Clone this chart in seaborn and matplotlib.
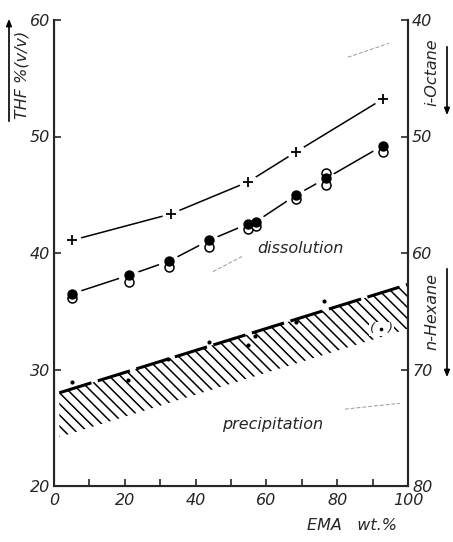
import numpy as np
import pandas as pd
import matplotlib
matplotlib.use("Agg")
import matplotlib.pyplot as plt
import seaborn as sns

# ---- data ----
plus_x = [5.2, 33.0, 54.8, 68.5, 92.8]
plus_y = [41.1, 43.35, 46.1, 48.7, 53.2]

filled_x = [5.1, 21.2, 32.5, 43.9, 54.8, 57.1, 68.5, 76.8, 92.8]
filled_y = [36.5, 38.1, 39.3, 41.1, 42.5, 42.7, 45.0, 46.4, 49.2]

open_x = [5.1, 21.2, 32.5, 43.9, 54.8, 57.1, 68.5, 76.8, 76.8, 92.8]
open_y = [36.1, 37.5, 38.8, 40.5, 42.1, 42.3, 44.6, 45.8, 46.9, 48.7]

dot_x = [5.1, 21.0, 32.3, 43.9, 54.8, 56.8, 68.4, 76.3]
dot_y = [28.95, 29.1, 30.9, 32.4, 32.1, 32.9, 34.1, 35.9]
paren_dot_x = [92.5]
paren_dot_y = [33.5]

band_x = [1.5, 100.0]
band_top = [28.0, 37.3]
band_depth = 3.8

left_ticks = [20, 30, 40, 50, 60]
right_ticks = [40, 50, 60, 70, 80]
x_major = [0, 20, 40, 60, 80, 100]
x_minor = [10, 30, 50, 70, 90]

# faint scan marks in the reference
marks = [
    ([83.0, 94.6], [56.8, 58.0]),
    ([44.9, 53.1], [38.4, 39.7]),
    ([82.2, 97.7], [26.6, 27.1]),
]

sns.set_style("ticks")
plt.rcParams["font.family"] = ["DejaVu Sans"]
plt.rcParams["font.style"] = "italic"
plt.rcParams["hatch.linewidth"] = 1.1

W, H = 453, 542
fig = plt.figure(figsize=(W / 100, H / 100), dpi=100)
ax = fig.add_axes([54 / W, 1 - 486 / H, (408 - 54) / W, (486 - 20) / H])

ax.set_xlim(0, 100)
ax.set_ylim(20, 60)

# hatched precipitation band
bx = np.array(band_x)
bt = np.array(band_top)
ax.fill_between(bx, bt - band_depth, bt, facecolor="none", edgecolor="black",
                hatch="\\\\\\", linewidth=0, zorder=1)
ax.plot(bx, bt, color="black", lw=2.2, dashes=(11, 2.2), zorder=2)

# lines
df_plus = pd.DataFrame({"x": plus_x, "y": plus_y})
df_fill = pd.DataFrame({"x": filled_x, "y": filled_y})
sns.lineplot(data=df_plus, x="x", y="y", ax=ax, color="black", lw=1.1,
             sort=True, estimator=None, zorder=2)
sns.lineplot(data=df_fill, x="x", y="y", ax=ax, color="black", lw=1.1,
             sort=True, estimator=None, zorder=2)

# white halos to create gaps
ax.scatter(plus_x, plus_y, s=170, color="white", zorder=3, linewidths=0)
ax.scatter(filled_x, [v - 0.2 for v in filled_y], s=230, color="white",
           zorder=3, linewidths=0)

# markers
sns.scatterplot(x=plus_x, y=plus_y, ax=ax, marker="+", s=60, color="black",
                linewidth=1.3, zorder=5)
sns.scatterplot(x=open_x, y=open_y, ax=ax, marker="o", s=42,
                facecolor="white", edgecolor="black", linewidth=1.1, zorder=4)
sns.scatterplot(x=filled_x, y=filled_y, ax=ax, marker="o", s=42,
                color="black", edgecolor="black", linewidth=1, zorder=6)
sns.scatterplot(x=dot_x, y=dot_y, ax=ax, marker="o", s=9, color="black",
                linewidth=0, zorder=6)
ax.text(paren_dot_x[0], paren_dot_y[0], "(   )", ha="center", va="center",
        fontsize=9.5, zorder=6,
        bbox=dict(facecolor="white", edgecolor="none", pad=0.5))
sns.scatterplot(x=paren_dot_x, y=paren_dot_y, ax=ax, marker="o", s=7,
                color="black", linewidth=0, zorder=7)

for mx, my in marks:
    ax.plot(mx, my, color="0.6", lw=0.7, ls=(0, (4, 2)), zorder=1)

# region labels
ax.text(57.5, 40.4, "dissolution", fontsize=11.5, ha="left", va="center")
ax.text(47.5, 25.3, "precipitation", fontsize=11.5, ha="left", va="center")

# axes styling
for s in ["left", "right", "bottom", "top"]:
    ax.spines[s].set_linewidth(1.5)
ax.spines["top"].set_visible(False)
ax.set_xticks(x_major)
ax.set_xticks(x_minor, minor=True)
ax.set_yticks(left_ticks)
ax.tick_params(axis="both", which="both", direction="in", length=5, width=1.2,
               labelsize=11.5, pad=3)
ax.tick_params(axis="x", which="major", pad=5)
ax.set_xlabel("")
ax.set_ylabel("")

ax2 = ax.twinx()
ax2.set_ylim(80, 40)
ax2.set_yticks(right_ticks)
ax2.spines["top"].set_visible(False)
ax2.spines["right"].set_linewidth(1.5)
ax2.tick_params(axis="y", direction="in", length=5, width=1.2,
                labelsize=11.5, pad=3)

# axis titles with arrows
fig.text(22 / W, 1 - 75 / H, "THF %(v/v)", rotation=90, ha="center",
         va="center", fontsize=11.5)
fig.add_artist(matplotlib.patches.FancyArrowPatch(
    (9 / W, 1 - 124 / H), (9 / W, 1 - 16 / H), transform=fig.transFigure,
    arrowstyle="-|>,head_length=4,head_width=1.6", color="black", lw=1.2))

fig.text(432 / W, 1 - 72 / H, "i-Octane", rotation=90, ha="center",
         va="center", fontsize=11.5)
fig.add_artist(matplotlib.patches.FancyArrowPatch(
    (447 / W, 1 - 44 / H), (447 / W, 1 - 118 / H), transform=fig.transFigure,
    arrowstyle="-|>,head_length=4,head_width=1.6", color="black", lw=1.2))

fig.text(432 / W, 1 - 312 / H, "n-Hexane", rotation=90, ha="center",
         va="center", fontsize=11.5)
fig.add_artist(matplotlib.patches.FancyArrowPatch(
    (447 / W, 1 - 266 / H), (447 / W, 1 - 380 / H), transform=fig.transFigure,
    arrowstyle="-|>,head_length=4,head_width=1.6", color="black", lw=1.2))

fig.text(307 / W, 1 - 526 / H, "EMA   wt.%", ha="left", va="center",
         fontsize=11.5)

fig.savefig("out.png", dpi=100)
